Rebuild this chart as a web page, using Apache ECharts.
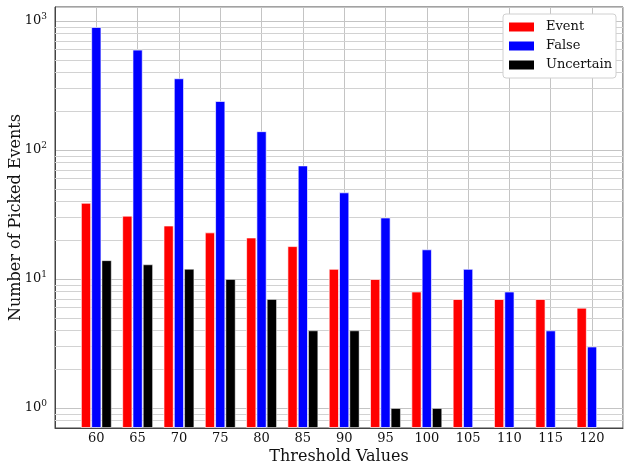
<!DOCTYPE html>
<html>
<head>
<meta charset="utf-8">
<script src="https://cdn.jsdelivr.net/npm/echarts@6/dist/echarts.min.js"></script>
<style>
html,body{margin:0;padding:0;background:#fff;}
#chart{width:631px;height:473px;}
</style>
</head>
<body>
<div id="chart"></div>
<script>
// ---- data ----
const thresholds = [60, 65, 70, 75, 80, 85, 90, 95, 100, 105, 110, 115, 120];
const eventCounts = [39, 31, 26, 23, 21, 18, 12, 10, 8, 7, 7, 7, 6];
const falseCounts = [900, 600, 360, 240, 140, 76, 47, 30, 17, 12, 8, 4, 3];
const uncertainCounts = [14, 13, 12, 10, 7, 4, 4, 1, 1, 0, 0, 0, 0];
const yMajorTicks = [1, 10, 100, 1000];
const yMinorGrid = [0.8, 0.9, 2, 3, 4, 5, 6, 7, 8, 9, 20, 30, 40, 50, 60, 70, 80, 90,
  200, 300, 400, 500, 600, 700, 800, 900];

const FONT = 'DejaVu Serif';
function pairs(vals) {
  const out = [];
  thresholds.forEach((t, i) => { if (vals[i] > 0) out.push([t, vals[i]]); });
  return out;
}
function isPow10(v) {
  const l = Math.log10(v);
  return Math.abs(l - Math.round(l)) < 1e-6;
}

const chart = echarts.init(document.getElementById('chart'), null, {renderer: 'canvas'});
const barBase = {
  type: 'bar',
  barWidth: 10.3,
  barGap: '0%'
};
chart.setOption({
  animation: false,
  backgroundColor: '#fff',
  textStyle: {fontFamily: FONT},
  grid: {left: 55, right: 8, top: 7, bottom: 45, containLabel: false, outerBoundsMode: 'none',
    show: true, borderColor: '#444', borderWidth: 1, backgroundColor: 'transparent'},
  legend: {
    orient: 'vertical', left: 503, top: 14,
    data: ['Event', 'False', 'Uncertain'],
    itemWidth: 25, itemHeight: 9, itemGap: 5,
    padding: [6, 4, 6, 6],
    backgroundColor: '#fff', borderColor: '#d0d0d0', borderWidth: 1, borderRadius: 3,
    textStyle: {fontFamily: FONT, fontSize: 13, color: '#111', lineHeight: 14, padding: [0, 0, 0, 7]},
    itemStyle: {borderWidth: 0},
    icon: 'rect'
  },
  xAxis: {
    type: 'value', min: 55, max: 123.75, interval: 5,
    axisLine: {show: true, lineStyle: {color: '#444'}},
    axisTick: {show: false},
    axisLabel: {fontFamily: FONT, fontSize: 13, color: '#111', margin: 4,
      formatter: v => thresholds.indexOf(v) >= 0 ? String(v) : ''},
    splitLine: {show: true, lineStyle: {color: '#c4c4c4', width: 1}},
    name: 'Threshold Values', nameLocation: 'middle', nameGap: 21, nameMoveOverlap: false,
    nameTextStyle: {fontFamily: FONT, fontSize: 16, color: '#111'}
  },
  yAxis: {
    type: 'log', logBase: 10, min: 0.7, max: 1284, startValue: 0.7,
    axisLine: {show: true, lineStyle: {color: '#444'}},
    axisTick: {show: false},
    axisLabel: {
      fontFamily: FONT, fontSize: 13, color: '#111', margin: 8,
      formatter: v => {
        if (!isPow10(v)) return '';
        const e = Math.round(Math.log10(v));
        if (yMajorTicks.indexOf(Math.pow(10, e)) < 0) return '';
        return '{b|10}{s|' + e + '}';
      },
      rich: {
        b: {fontFamily: FONT, fontSize: 13, color: '#111'},
        s: {fontFamily: FONT, fontSize: 9, color: '#111', padding: [0, 0, 8, 0]}
      }
    },
    splitLine: {show: true, lineStyle: {color: '#c4c4c4', width: 1}},
    name: 'Number of Picked Events', nameLocation: 'middle', nameGap: 31, nameMoveOverlap: false,
    nameTextStyle: {fontFamily: FONT, fontSize: 16, color: '#111'}
  },
  series: [
    Object.assign({}, barBase, {
      name: 'Event', data: pairs(eventCounts), color: '#ff0000',
      itemStyle: {color: '#ff0000', borderColor: 'rgba(255,255,255,0.65)', borderWidth: 1},
      markLine: {
        silent: true, symbol: 'none', z: 1, animation: false,
        label: {show: false},
        lineStyle: {color: '#d2d2d2', width: 1, type: 'solid'},
        emphasis: {disabled: true},
        data: yMinorGrid.map(v => ({yAxis: v}))
      }
    }),
    Object.assign({}, barBase, {
      name: 'False', data: pairs(falseCounts), color: '#0000ff',
      itemStyle: {color: '#0000ff', borderColor: 'rgba(255,255,255,0.65)', borderWidth: 1}
    }),
    Object.assign({}, barBase, {
      name: 'Uncertain', data: pairs(uncertainCounts), color: '#000000',
      itemStyle: {color: '#000000', borderColor: 'rgba(255,255,255,0.45)', borderWidth: 1}
    })
  ]
});
</script>
</body>
</html>
